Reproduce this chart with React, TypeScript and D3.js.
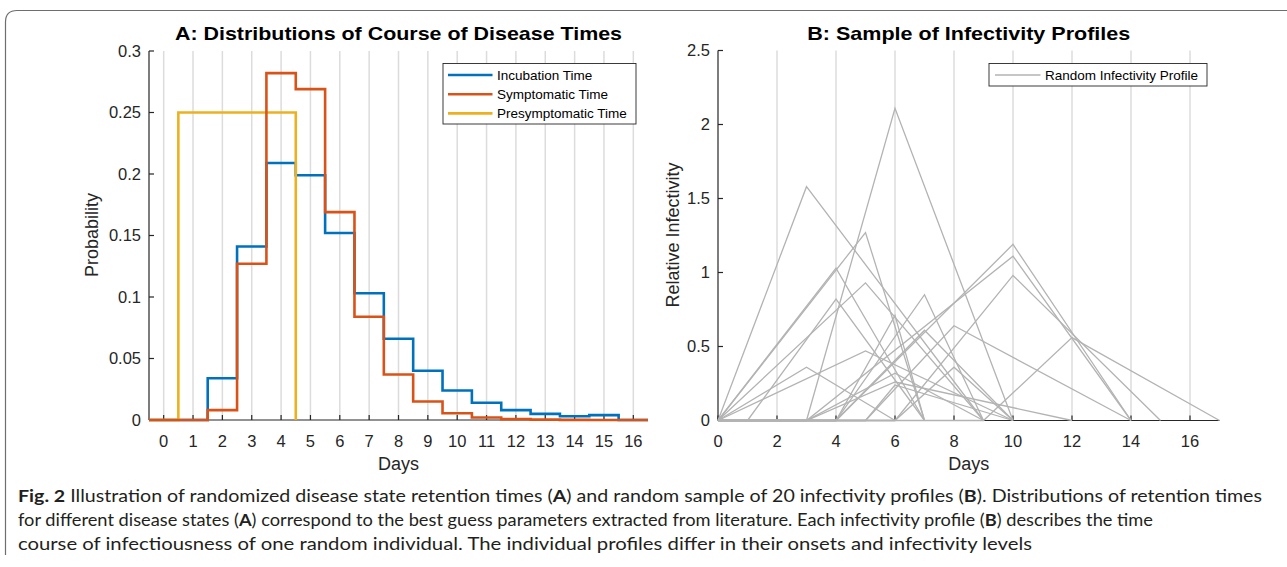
import React from 'react';
import * as d3 from 'd3';

// Panel A: probability per day (bins centred on integer days)
const DAYS_A = [0, 1, 2, 3, 4, 5, 6, 7, 8, 9, 10, 11, 12, 13, 14, 15, 16];
const INCUBATION = [0, 0, 0.034, 0.141, 0.209, 0.199, 0.152, 0.103, 0.066, 0.040, 0.024, 0.014, 0.008, 0.005, 0.003, 0.004, 0];
const SYMPTOMATIC = [0, 0, 0.008, 0.127, 0.282, 0.269, 0.169, 0.084, 0.037, 0.015, 0.0055, 0.002, 0.0007, 0.0003, 0.0001, 0, 0];
// presymptomatic only spans days 0..4, then drops to zero at 4.5
const DAYS_PRE = [0, 1, 2, 3, 4];
const PRESYMPTOMATIC = [0, 0.25, 0.25, 0.25, 0.25];
const Y_TICKS_A = [0, 0.05, 0.1, 0.15, 0.2, 0.25, 0.3];

// Panel B: 20 random infectivity profiles, vertices [day, infectivity]
const PROFILES = [
  [[0, 0], [3, 0], [6, 2.11], [10, 0]],
  [[0, 0], [3, 1.58], [9, 0]],
  [[0, 0], [5, 1.27], [7, 0]],
  [[0, 0], [4, 0], [10, 1.19], [14, 0]],
  [[0, 0], [3, 0], [10, 1.11], [14, 0]],
  [[0, 0], [6, 0], [10, 0.98], [15, 0]],
  [[0, 0], [4, 0], [7, 0.85], [9, 0]],
  [[0, 0], [5, 0], [8, 0.64], [14, 0]],
  [[0, 0], [4, 0], [7, 0.61], [10, 0]],
  [[0, 0], [6, 0], [8, 0.36], [10, 0]],
  [[0, 0], [4, 0], [6, 0.71], [7, 0]],
  [[0, 0], [4, 1.03], [7, 0]],
  [[0, 0], [5, 0.93], [9, 0]],
  [[0, 0], [1, 0], [4, 0.82], [7, 0]],
  [[0, 0], [3, 0.36], [6, 0]],
  [[0, 0], [5, 0.47], [10, 0]],
  [[0, 0], [9, 0], [12, 0.56], [17, 0]],
  [[0, 0], [3, 0], [6, 0.26], [12, 0]],
  [[0, 0], [3, 0], [6, 0.32], [9, 0]],
  [[0, 0], [5, 0], [6, 0.24], [10, 0]],
];
const X_TICKS_B = [0, 2, 4, 6, 8, 10, 12, 14, 16];
const Y_TICKS_B = [0, 0.5, 1, 1.5, 2, 2.5];

const BLUE = '#0072BD';
const RED = '#D95319';
const YELLOW = '#EDB120';
const AX = '#262626';
const GRID = '#dcdcdc';
const FONT = "'Liberation Sans', Arial, Helvetica, sans-serif";

const App = () => {
  const xA = d3.scaleLinear().domain([-0.5, 16.5]).range([149, 648]);
  const yA = d3.scaleLinear().domain([0, 0.3]).range([420, 51]);
  const xB = d3.scaleLinear().domain([0, 17]).range([718, 1219.5]);
  const yB = d3.scaleLinear().domain([0, 2.5]).range([420.5, 50.5]);

  // histogram outline: step at bin edges, closing down to zero at the end
  const stairs = (days: number[], vals: number[]) => {
    const pts: [number, number][] = days.map((d, i) => [d - 0.5, vals[i]]);
    const last = days[days.length - 1] + 0.5;
    pts.push([last, vals[vals.length - 1]]);
    pts.push([last, 0]);
    return d3.line<[number, number]>()
      .x(p => xA(p[0]))
      .y(p => yA(p[1]))
      .curve(d3.curveStepAfter)(pts);
  };

  const profileLine = d3.line<number[]>()
    .x(p => xB(p[0]))
    .y(p => yB(p[1]));

  const seriesA = [
    { name: 'Incubation Time', days: DAYS_A, vals: INCUBATION, color: BLUE },
    { name: 'Symptomatic Time', days: DAYS_A, vals: SYMPTOMATIC, color: RED },
    { name: 'Presymptomatic Time', days: DAYS_PRE, vals: PRESYMPTOMATIC, color: YELLOW },
  ];
  // draw order: blue, yellow, red on top
  const drawOrder = [seriesA[0], seriesA[2], seriesA[1]];

  return (
    <svg width={1287} height={567} style={{ position: 'absolute', left: 0, top: 0, background: '#fff' }} fontFamily={FONT}>
      {/* frame */}
      <path d="M5.5,555 L5.5,22 Q5.5,10.5 17,10.5 L1287,10.5" fill="none" stroke="#6e6e6e" strokeWidth={1.2} />

      {/* ---------- Panel A ---------- */}
      <text x={398.5} y={40} textAnchor="middle" fontSize={18.5} fontWeight="bold" fill="#000" textLength={447} lengthAdjust="spacingAndGlyphs">
        A: Distributions of Course of Disease Times
      </text>
      {DAYS_A.map(d => (
        <line key={d} x1={xA(d)} x2={xA(d)} y1={51} y2={420} stroke={GRID} strokeWidth={1.5} />
      ))}
      <line x1={149} x2={149} y1={51} y2={420} stroke={AX} strokeWidth={1.2} />
      <line x1={149} x2={648} y1={420} y2={420} stroke={AX} strokeWidth={1.2} />
      {Y_TICKS_A.map(t => (
        <g key={t}>
          <line x1={149} x2={154} y1={yA(t)} y2={yA(t)} stroke={AX} strokeWidth={1.2} />
          <text x={141} y={yA(t)} dy="0.36em" textAnchor="end" fontSize={16.5} fill={AX}>{String(t)}</text>
        </g>
      ))}
      {DAYS_A.map(d => (
        <g key={d}>
          <line x1={xA(d)} x2={xA(d)} y1={420} y2={415} stroke={AX} strokeWidth={1.2} />
          <text x={xA(d)} y={447} textAnchor="middle" fontSize={16.5} fill={AX}>{d}</text>
        </g>
      ))}
      {drawOrder.map(s => (
        <path key={s.name} d={stairs(s.days, s.vals) || ''} fill="none" stroke={s.color} strokeWidth={2.6} />
      ))}
      <text x={398.5} y={470} textAnchor="middle" fontSize={18} fill={AX}>Days</text>
      <text transform="translate(98,235) rotate(-90)" textAnchor="middle" fontSize={18} fill={AX}>Probability</text>

      {/* legend A */}
      <rect x={443} y={63.5} width={193} height={60.5} fill="#fff" stroke={AX} strokeWidth={0.9} />
      {seriesA.map((s, i) => (
        <g key={s.name}>
          <line x1={448} x2={492.5} y1={75 + i * 19.2} y2={75 + i * 19.2} stroke={s.color} strokeWidth={2.6} />
          <text x={497} y={75 + i * 19.2} dy="0.36em" fontSize={13.5} fill="#000">{s.name}</text>
        </g>
      ))}

      {/* ---------- Panel B ---------- */}
      <text x={968.75} y={40} textAnchor="middle" fontSize={18.5} fontWeight="bold" fill="#000" textLength={323} lengthAdjust="spacingAndGlyphs">
        B: Sample of Infectivity Profiles
      </text>
      {X_TICKS_B.filter(d => d > 0).map(d => (
        <line key={d} x1={xB(d)} x2={xB(d)} y1={50.5} y2={420.5} stroke={GRID} strokeWidth={1.5} />
      ))}
      <line x1={718} x2={718} y1={50.5} y2={420.5} stroke={AX} strokeWidth={1.2} />
      <line x1={718} x2={1219.5} y1={420.5} y2={420.5} stroke={AX} strokeWidth={1.2} />
      {Y_TICKS_B.map(t => (
        <g key={t}>
          <line x1={718} x2={723} y1={yB(t)} y2={yB(t)} stroke={AX} strokeWidth={1.2} />
          <text x={710} y={yB(t)} dy="0.36em" textAnchor="end" fontSize={16.5} fill={AX}>{String(t)}</text>
        </g>
      ))}
      {X_TICKS_B.map(d => (
        <g key={d}>
          <line x1={xB(d)} x2={xB(d)} y1={420.5} y2={415.5} stroke={AX} strokeWidth={1.2} />
          <text x={xB(d)} y={447} textAnchor="middle" fontSize={16.5} fill={AX}>{d}</text>
        </g>
      ))}
      {PROFILES.map((p, i) => (
        <path key={i} d={profileLine(p) || ''} fill="none" stroke="#b3b3b3" strokeWidth={1.3} />
      ))}
      <text x={968.75} y={470} textAnchor="middle" fontSize={18} fill={AX}>Days</text>
      <text transform="translate(679,235) rotate(-90)" textAnchor="middle" fontSize={18} fill={AX}>Relative Infectivity</text>

      {/* legend B */}
      <rect x={989} y={63.5} width={218} height={22.5} fill="#fff" stroke={AX} strokeWidth={0.9} />
      <line x1={995} x2={1040.5} y1={75} y2={75} stroke="#b3b3b3" strokeWidth={1.3} />
      <text x={1045} y={75} dy="0.36em" fontSize={13.5} fill="#000">Random Infectivity Profile</text>

      {/* ---------- caption ---------- */}
      <g fontFamily="'Liberation Sans Narrow', Lato, 'Open Sans', sans-serif" fontSize={17.5} fill="#231f20">
        <text x={18} y={502} textLength={1244} lengthAdjust="spacingAndGlyphs">
          <tspan fontWeight="bold">Fig. 2</tspan>{'  Illustration of randomized disease state retention times ('}<tspan fontWeight="bold">A</tspan>{') and random sample of 20 infectivity profiles ('}<tspan fontWeight="bold">B</tspan>{'). Distributions of retention times'}
        </text>
        <text x={18} y={526} textLength={1135} lengthAdjust="spacingAndGlyphs">
          {'for different disease states ('}<tspan fontWeight="bold">A</tspan>{') correspond to the best guess parameters extracted from literature. Each infectivity profile ('}<tspan fontWeight="bold">B</tspan>{') describes the time'}
        </text>
        <text x={18} y={550} textLength={1014} lengthAdjust="spacingAndGlyphs">
          course of infectiousness of one random individual. The individual profiles differ in their onsets and infectivity levels
        </text>
      </g>
    </svg>
  );
};

export default App;
